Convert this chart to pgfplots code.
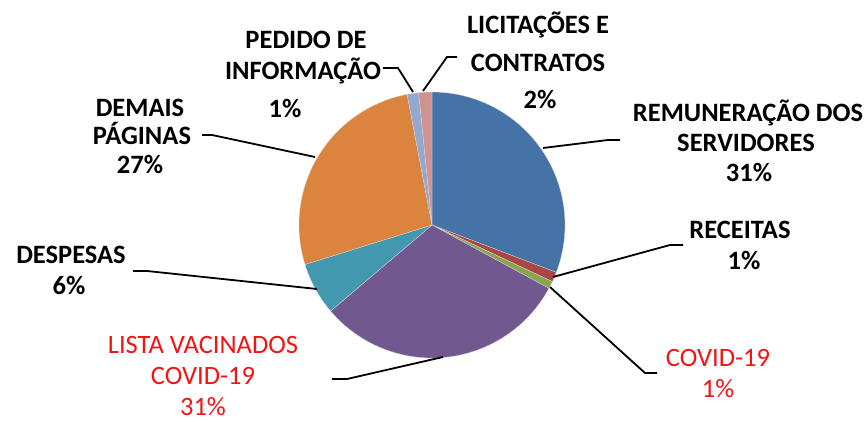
\documentclass[border=0pt]{standalone}
\usepackage{pgfplots}
\pgfplotsset{compat=1.18}
\usepackage{fontspec}
\setmainfont{Carlito}
\definecolor{c1}{RGB}{69,114,167}
\definecolor{c2}{RGB}{170,70,67}
\definecolor{c3}{RGB}{137,165,78}
\definecolor{c4}{RGB}{113,88,143}
\definecolor{c5}{RGB}{65,152,175}
\definecolor{c6}{RGB}{219,132,61}
\definecolor{c7}{RGB}{147,169,207}
\definecolor{c8}{RGB}{209,147,146}
\definecolor{lred}{RGB}{240,20,20}
% slice: start cumulative %, end cumulative %, colour
\newcommand\slice[3]{%
  \addplot[fill=#3, draw=white!85!black, line width=0.3pt, domain={90-3.6*(#2)}:{90-3.6*(#1)}, samples=90, variable=\t]
    ({432+133*cos(\t)},{197+133*sin(\t)}) -- (axis cs:432,197) -- cycle;}
\newcommand\labB[3]{\node[anchor=base, text=black, inner sep=0pt, font=\fontsize{26.5}{30}\selectfont\bfseries] at (axis cs:#1,#2) {#3};}
\newcommand\labR[3]{\node[anchor=base, text=lred, inner sep=0pt, font=\fontsize{26.5}{30}\selectfont] at (axis cs:#1,#2) {#3};}
\begin{document}
\begin{tikzpicture}
\begin{axis}[name=ax, width=867pt, height=422pt, scale only axis, hide axis, clip=false,
  xmin=0, xmax=867, ymin=0, ymax=422]
% shares (%): 30.8, 1.2, 0.9, 30.9, 6.4, 26.8, 1.4, 1.6
\slice{0}{30.8}{c1}
\slice{30.8}{32.0}{c2}
\slice{32.0}{32.9}{c3}
\slice{32.9}{63.8}{c4}
\slice{63.8}{70.2}{c5}
\slice{70.2}{97.0}{c6}
\slice{97.0}{98.4}{c7}
\slice{98.4}{100}{c8}
% leader lines
\draw[black, line width=1.8pt] (axis cs:383,354) -- (axis cs:398,354) -- (axis cs:413,330);
\draw[black, line width=1.8pt] (axis cs:457,365) -- (axis cs:447,365) -- (axis cs:423,331);
\draw[black, line width=1.8pt] (axis cs:543,274) -- (axis cs:608,282) -- (axis cs:620,282);
\draw[black, line width=1.8pt] (axis cs:553,145) -- (axis cs:670,177) -- (axis cs:683,177);
\draw[black, line width=1.8pt] (axis cs:550,135) -- (axis cs:645,49) -- (axis cs:657,49);
\draw[black, line width=1.8pt] (axis cs:443,65) -- (axis cs:347,43) -- (axis cs:332,43);
\draw[black, line width=1.8pt] (axis cs:317,133) -- (axis cs:147,151) -- (axis cs:133,151);
\draw[black, line width=1.8pt] (axis cs:315,265) -- (axis cs:212,287) -- (axis cs:202,287);
% labels
\labB{538}{388.7}{LICITAÇÕES E}
\labB{538}{350.3}{CONTRATOS}
\labB{540}{313.7}{2\%}
\labB{306}{373.7}{PEDIDO DE}
\labB{303}{342}{INFORMAÇÃO}
\labB{285}{304}{1\%}
\labB{748}{300.3}{REMUNERAÇÃO DOS}
\labB{746}{270.3}{SERVIDORES}
\labB{749}{240.3}{31\%}
\labB{140}{305.3}{DEMAIS}
\labB{142}{277}{PÁGINAS}
\labB{140}{248.7}{27\%}
\labB{740}{183.7}{RECEITAS}
\labB{744}{152}{1\%}
\labB{71}{158.7}{DESPESAS}
\labB{69}{127}{6\%}
\labR{203}{68}{LISTA VACINADOS}
\labR{203}{37}{COVID-19}
\labR{203}{6}{31\%}
\labR{718}{55.3}{COVID-19}
\labR{718}{24}{1\%}
\end{axis}
\pgfresetboundingbox
\path[use as bounding box] (ax.south west) rectangle (ax.north east);
\end{tikzpicture}
\end{document}
